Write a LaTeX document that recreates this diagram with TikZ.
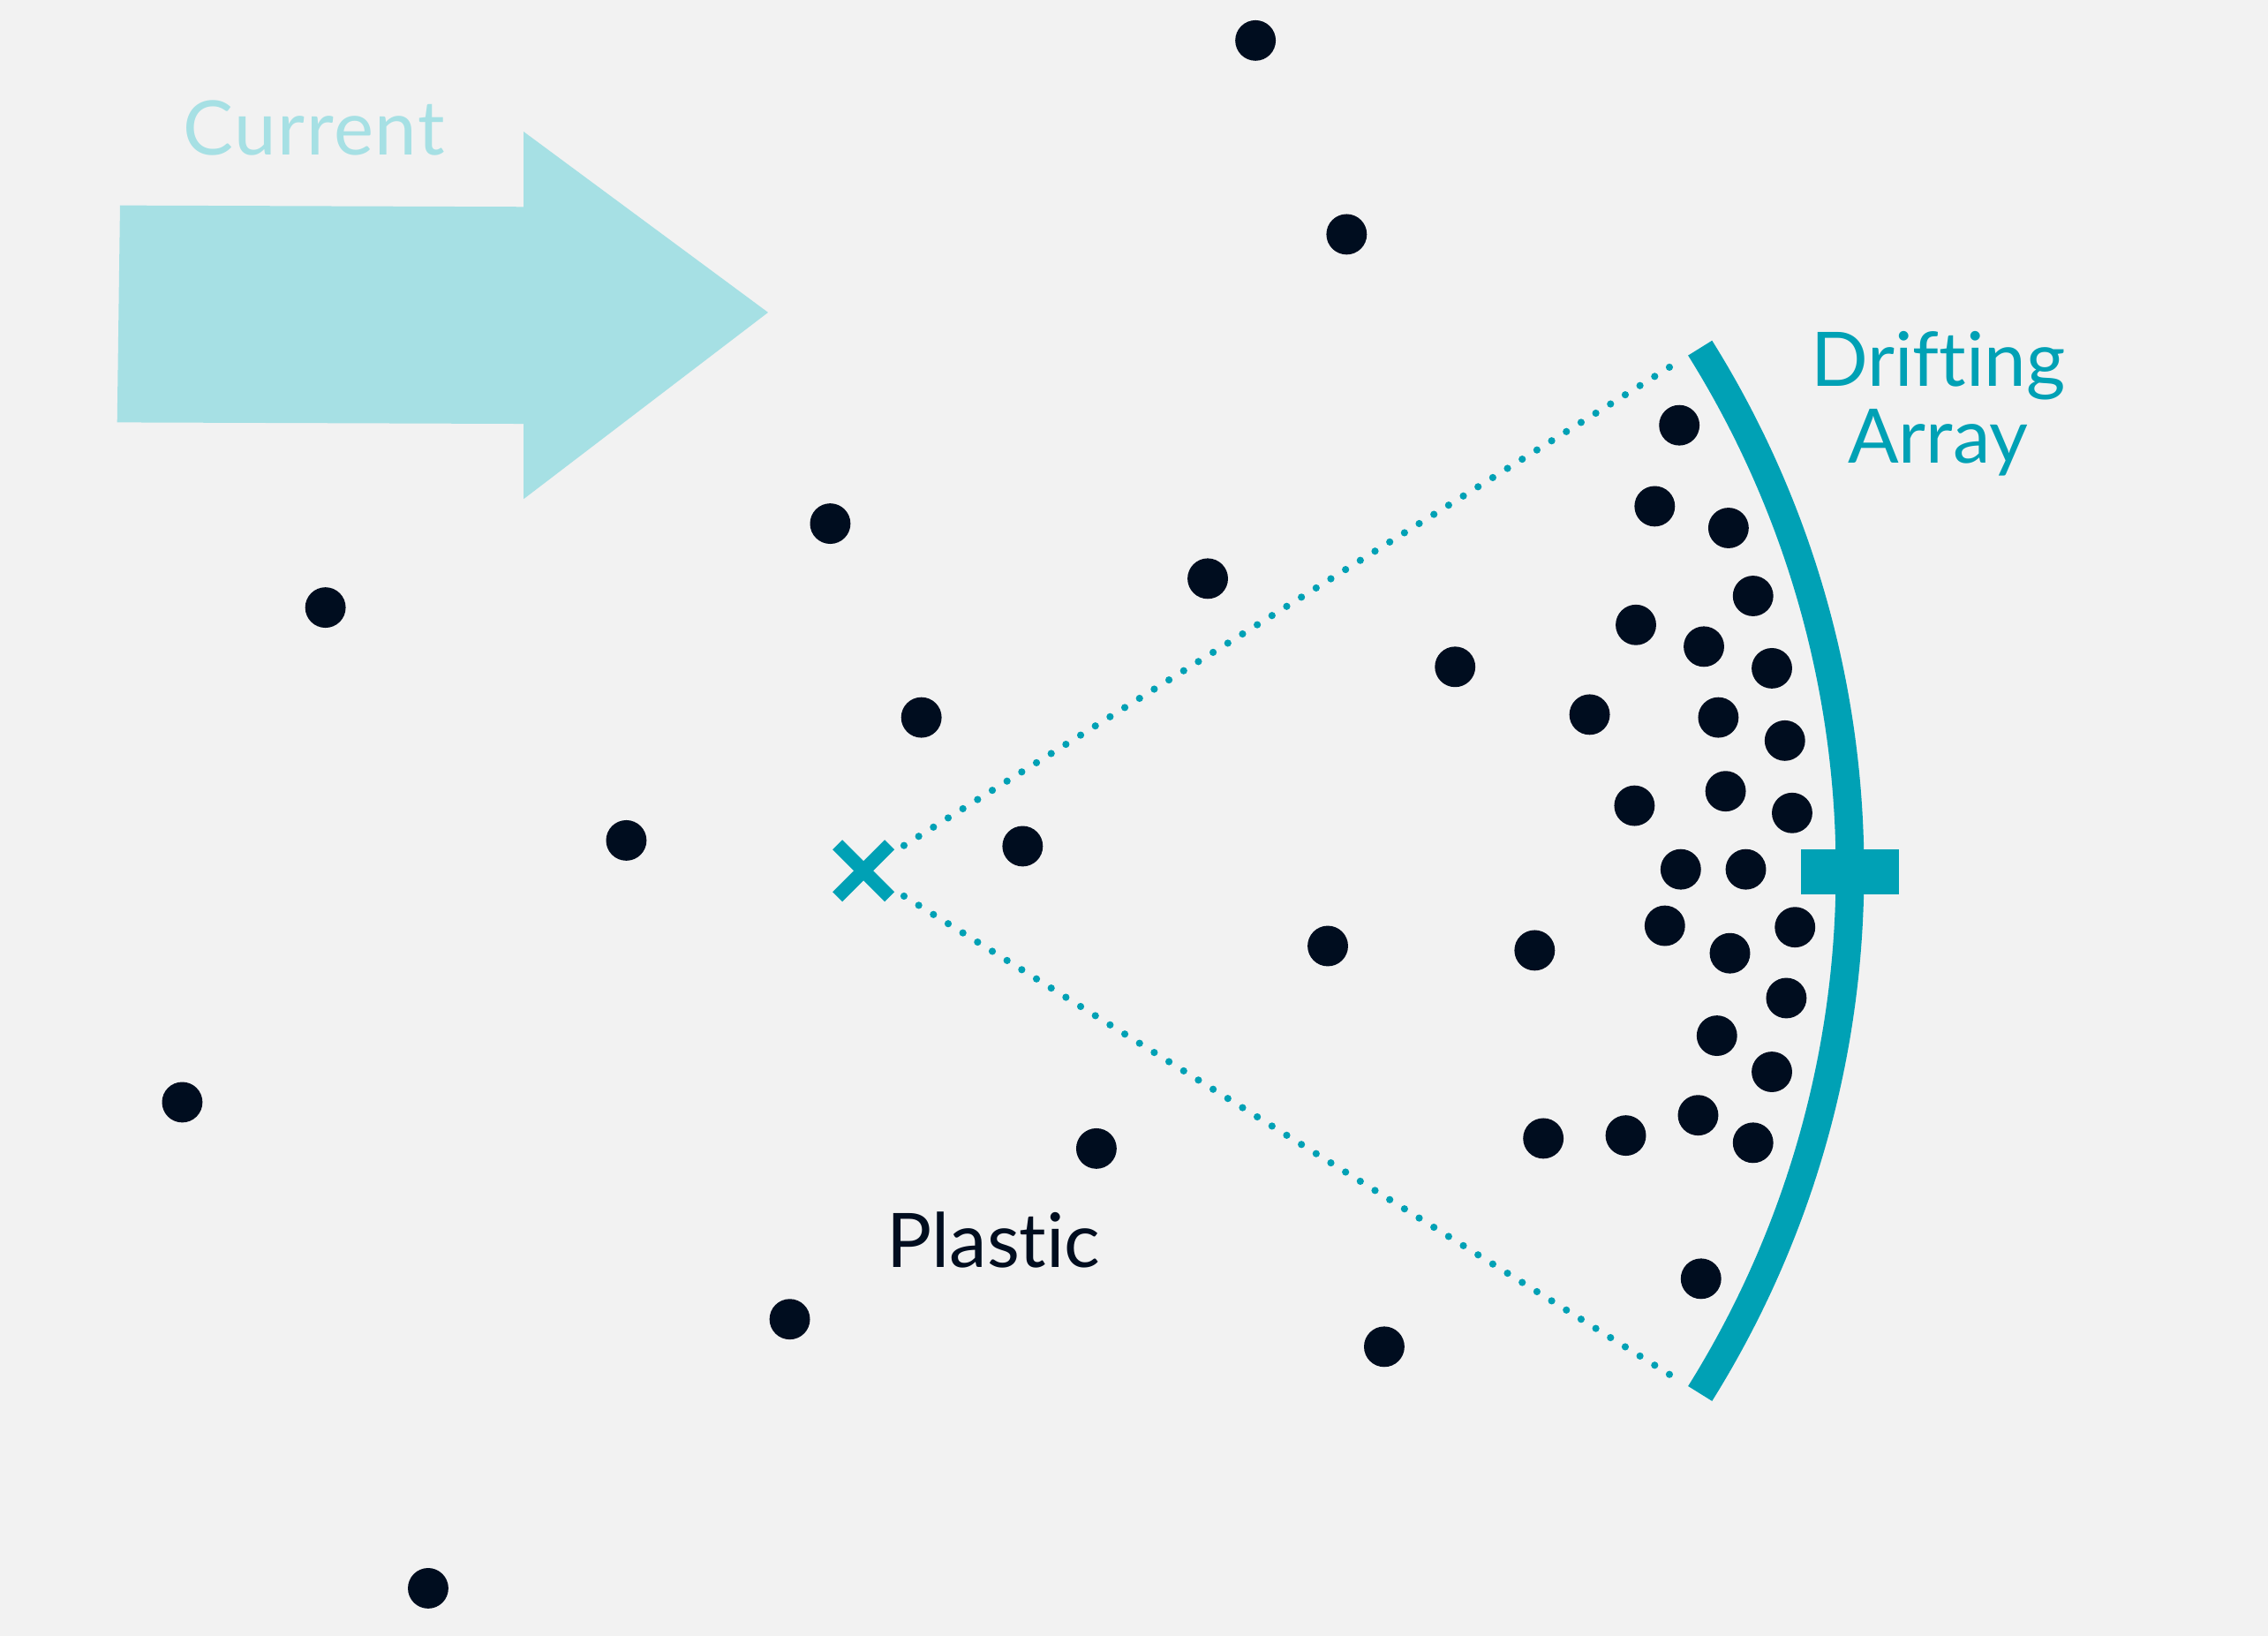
\documentclass[tikz,border=0pt]{standalone}
\usepackage{fontspec}
\setmainfont{Lato}[Ligatures={NoCommon}, Contextuals={NoAlternate}]
\definecolor{bg}{HTML}{F2F2F2}
\definecolor{flow}{HTML}{A6E0E4}
\definecolor{arrayblue}{HTML}{00A1B5}
\definecolor{ink}{HTML}{000D1F}
\begin{document}
\begin{tikzpicture}[x=0.1mm, y=-0.1mm, font=\fontsize{14.8}{17}\selectfont,
  plastic/.style={circle, fill=ink, inner sep=0pt, minimum size=2.8mm},
  sightline/.style={arrayblue, line width=0.5mm, line cap=round, dash pattern=on 0pt off 1.2mm},
  label/.style={anchor=base, inner sep=0pt}]
\fill [bg] (0,0) rectangle (1568,1131);
\useasboundingbox (0,0) rectangle (1568,1131);
% current
\fill [flow] (83,142) -- (362,143) -- (362,91) -- (531,216) -- (362,345) -- (362,293) -- (81,292) -- cycle;
\node [label, text=flow] (current) at (217,107) {\addfontfeature{LetterSpace=2}Current};
% plastic pieces
\foreach \x/\y [count=\i] in {868/28, 931/162, 574/362, 225/420, 835/400, 637/496, 433/581, 707/585,
  126/762, 758/794, 546/912, 296/1098, 957/931, 918/654, 1061/657, 1006/461, 1099/494,
  1161/294, 1144/350, 1195/365, 1212/412, 1131/432, 1178/447, 1225/462, 1188/496, 1234/512,
  1130/557, 1193/547, 1239/562, 1162/601, 1207/601, 1151/640, 1241/641, 1196/659, 1235/690,
  1187/716, 1225/741, 1067/787, 1124/785, 1174/771, 1212/790, 1176/884}
  \node [plastic] (p\i) at (\x,\y) {};
\node [label, text=ink] (plastic) at (687,876) {Plastic};
% release point and array
\coordinate (release) at (597,602);
\draw [arrayblue, line width=0.95mm] (release) ++(-1.8mm,-1.8mm) -- ++(3.6mm,3.6mm);
\draw [arrayblue, line width=0.95mm] (release) ++(-1.8mm,1.8mm) -- ++(3.6mm,-3.6mm);
\path (release) ++(32:66.2mm) coordinate (uptip);
\path (release) ++(-32:66.2mm) coordinate (downtip);
\draw [sightline, shorten <=3.3mm] (release) -- (uptip);
\draw [sightline, shorten <=3.3mm] (release) -- (downtip);
\draw [arrayblue, line width=1.95mm] (release) ++(-32:68.2mm) arc (-32:32:68.2mm);
\node [fill=arrayblue, inner sep=0pt, minimum width=6.8mm, minimum height=3.1mm] (marker) at (1279,602.5) {};
\node [label, text=arrayblue] (drifting) at (1340,267) {Drifting};
\node [label, text=arrayblue] (array) at (1340,320) {Array};
\end{tikzpicture}
\end{document}
